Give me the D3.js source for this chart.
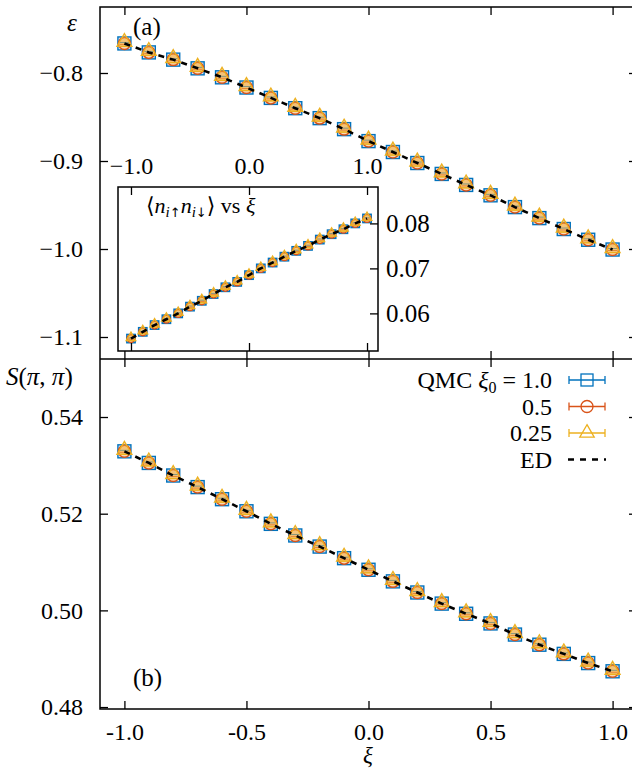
<!DOCTYPE html>
<html>
<head>
<meta charset="utf-8">
<script src="https://cdn.jsdelivr.net/npm/d3@7"></script>
<style>
  body { margin: 0; background: #fff; }
  svg { font-family: "Liberation Serif", "DejaVu Serif", serif; }
</style>
</head>
<body>
<svg id="chart" width="632" height="770"></svg>
<script>
// xi grid shared by all data
const xi = [-1.0, -0.9, -0.8, -0.7, -0.6, -0.5, -0.4, -0.3, -0.2, -0.1, 0.0,
            0.1, 0.2, 0.3, 0.4, 0.5, 0.6, 0.7, 0.8, 0.9, 1.0];

// energy per site, panel (a)
const energy = [-0.7664, -0.7766, -0.7848, -0.7947, -0.8049, -0.8165, -0.8283, -0.8400,
                -0.8513, -0.8638, -0.8774, -0.8898, -0.9023, -0.9147, -0.9272, -0.9390,
                -0.9524, -0.9649, -0.9773, -0.9895, -1.0006];

// double occupancy, inset
const docc = [0.0544, 0.0559, 0.0574, 0.0587, 0.0600, 0.0615, 0.0628, 0.0643, 0.0658,
              0.0670, 0.0685, 0.0700, 0.0713, 0.0726, 0.0739, 0.0750, 0.0764, 0.0776,
              0.0787, 0.0800, 0.0811];

// structure factor, panel (b)
const spp = [0.5329, 0.5305, 0.5279, 0.5255, 0.5230, 0.5205, 0.5179, 0.5155, 0.5132,
             0.5108, 0.5084, 0.5060, 0.5037, 0.5014, 0.4993, 0.4973, 0.4950, 0.4929,
             0.4910, 0.4891, 0.4874];

const seriesNames = ["QMC ξ₀ = 1.0", "0.5", "0.25", "ED"];
const seriesColors = ["#0072bd", "#d95319", "#edb120", "#000"];

const xTicks = [-1.0, -0.5, 0.0, 0.5, 1.0];
const yTicksA = [-0.8, -0.9, -1.0, -1.1];
const yTicksB = [0.54, 0.52, 0.50, 0.48];
const insetXTicks = [-1.0, 0.0, 1.0];
const insetYTicks = [0.06, 0.07, 0.08];

const svg = d3.select("#chart");

const x = d3.scaleLinear().domain([-1.1, 1.1]).range([100, 637]);
const yA = d3.scaleLinear().domain([-1.125, -0.725]).range([359, 7]);
const yB = d3.scaleLinear().domain([0.4796, 0.552]).range([709, 359]);
const xI = d3.scaleLinear().domain([-1.11, 1.093]).range([118, 378]);
const yI = d3.scaleLinear().domain([0.05164, 0.08809]).range([351, 187]);

const fmt = d3.format(".1f");
const fmt2 = d3.format(".2f");

function styleAxis(g, size) {
  g.select(".domain").remove();
  g.selectAll(".tick line").attr("stroke", "#000").attr("stroke-width", 1.3);
  g.selectAll(".tick text").attr("fill", "#000")
    .style("font-family", "'Liberation Serif', serif").style("font-size", size + "px");
}

// markers + error bars for one panel
function drawPoints(g, sx, sy, vals, s) {
  const pts = xi.map((v, i) => ({ x: v, y: vals[i] }));
  g.append("g").selectAll("rect").data(pts).enter().append("rect")
    .attr("x", d => sx(d.x) - s).attr("y", d => sy(d.y) - s)
    .attr("width", 2 * s).attr("height", 2 * s)
    .attr("fill", "#d8e8f4").attr("stroke", seriesColors[0]).attr("stroke-width", 1.4);
  g.append("g").selectAll("circle").data(pts).enter().append("circle")
    .attr("cx", d => sx(d.x)).attr("cy", d => sy(d.y)).attr("r", s * 0.92)
    .attr("fill", "#f8d9b4").attr("stroke", seriesColors[1]).attr("stroke-width", 1.5);
  // error bars (horizontal in each colour)
  [0, 1, 2].forEach(k => {
    g.append("g").selectAll("line").data(pts).enter().append("line")
      .attr("x1", d => sx(d.x) - s * 0.7).attr("x2", d => sx(d.x) + s * 0.7)
      .attr("y1", d => sy(d.y) + (k - 0.5) * s * 0.3).attr("y2", d => sy(d.y) + (k - 0.5) * s * 0.3)
      .attr("stroke", seriesColors[k]).attr("stroke-width", 1).attr("opacity", 0.8);
  });
  const tri = d3.symbol().type(d3.symbolTriangle).size(s * s * 2.3);
  g.append("g").selectAll("path").data(pts).enter().append("path")
    .attr("d", tri)
    .attr("transform", d => `translate(${sx(d.x)},${sy(d.y) - s * 0.2})`)
    .attr("fill", "#f0a830").attr("fill-opacity", 0.45)
    .attr("stroke", seriesColors[2]).attr("stroke-width", 1.3);
  // ED dashed line on top
  const line = d3.line().x(d => sx(d.x)).y(d => sy(d.y));
  g.append("path").datum(pts).attr("d", line)
    .attr("fill", "none").attr("stroke", "#000").attr("stroke-width", 2.6)
    .attr("stroke-dasharray", "6,6");
}

// ---------- panel (a)
const gA = svg.append("g");
drawPoints(gA, x, yA, energy, 6.5);

gA.append("g").attr("transform", "translate(100,0)")
  .call(d3.axisLeft(yA).tickValues(yTicksA).tickSize(-8).tickPadding(17).tickFormat(fmt))
  .call(g => styleAxis(g, 24));
gA.append("g").attr("transform", "translate(637,0)")
  .call(d3.axisRight(yA).tickValues(yTicksA).tickSize(-8).tickFormat(""))
  .call(g => styleAxis(g, 24));
gA.append("g").attr("transform", "translate(0,7)")
  .call(d3.axisTop(x).tickValues(xTicks).tickSize(-8).tickFormat(""))
  .call(g => styleAxis(g, 24));
gA.append("g").attr("transform", "translate(0,359)")
  .call(d3.axisBottom(x).tickValues(xTicks).tickSize(-8).tickFormat(""))
  .call(g => styleAxis(g, 24));

gA.append("text").attr("x", 72).attr("y", 31).attr("text-anchor", "middle")
  .style("font-style", "italic").style("font-size", "25px").text("ε");
gA.append("text").attr("x", 133).attr("y", 35).style("font-size", "25px").text("(a)");

// ---------- inset
const gI = svg.append("g");
gI.append("rect").attr("x", 118).attr("y", 187).attr("width", 260).attr("height", 164)
  .attr("fill", "#fff").attr("stroke", "#000").attr("stroke-width", 1.5);
drawPoints(gI, xI, yI, docc, 4.2);

gI.append("g").attr("transform", "translate(0,187)")
  .call(d3.axisTop(xI).tickValues(insetXTicks).tickSize(-8).tickPadding(13).tickFormat(fmt))
  .call(g => styleAxis(g, 24));
gI.append("g").attr("transform", "translate(0,351)")
  .call(d3.axisBottom(xI).tickValues(insetXTicks).tickSize(-8).tickFormat(""))
  .call(g => styleAxis(g, 24));
gI.append("g").attr("transform", "translate(378,0)")
  .call(d3.axisRight(yI).tickValues(insetYTicks).tickSize(-8).tickPadding(8).tickFormat(fmt2))
  .call(g => styleAxis(g, 25));

const insetLabel = gI.append("text").attr("x", 146).attr("y", 213).style("font-size", "22px");
insetLabel.append("tspan").text("⟨");
insetLabel.append("tspan").style("font-style", "italic").text("n");
insetLabel.append("tspan").attr("dy", 4).style("font-size", "15px").style("font-style", "italic").text("i");
insetLabel.append("tspan").style("font-size", "13px").style("font-family", "'DejaVu Sans'").text("↑");
insetLabel.append("tspan").attr("dy", -4).style("font-style", "italic").text("n");
insetLabel.append("tspan").attr("dy", 4).style("font-size", "15px").style("font-style", "italic").text("i");
insetLabel.append("tspan").style("font-size", "13px").style("font-family", "'DejaVu Sans'").text("↓");
insetLabel.append("tspan").attr("dy", -4).text("⟩ vs ");
insetLabel.append("tspan").style("font-style", "italic").text("ξ");

// ---------- panel (b)
const gB = svg.append("g");
drawPoints(gB, x, yB, spp, 6.5);

gB.append("g").attr("transform", "translate(100,0)")
  .call(d3.axisLeft(yB).tickValues(yTicksB).tickSize(-8).tickPadding(17).tickFormat(fmt2))
  .call(g => styleAxis(g, 24));
gB.append("g").attr("transform", "translate(637,0)")
  .call(d3.axisRight(yB).tickValues(yTicksB).tickSize(-8).tickFormat(""))
  .call(g => styleAxis(g, 24));
gB.append("g").attr("transform", "translate(0,709)")
  .call(d3.axisBottom(x).tickValues(xTicks).tickSize(-8).tickPadding(14)
    .tickFormat(d => fmt(d).replace("−", "-")))
  .call(g => styleAxis(g, 24));
gB.append("g").attr("transform", "translate(0,359)")
  .call(d3.axisTop(x).tickValues(xTicks).tickSize(-8).tickFormat(""))
  .call(g => styleAxis(g, 24));

const sLabel = gB.append("text").attr("x", 6).attr("y", 385).style("font-size", "25px");
sLabel.append("tspan").style("font-style", "italic").text("S");
sLabel.append("tspan").text("(");
sLabel.append("tspan").style("font-style", "italic").text("π");
sLabel.append("tspan").text(", ");
sLabel.append("tspan").style("font-style", "italic").text("π");
sLabel.append("tspan").text(")");

gB.append("text").attr("x", 133).attr("y", 686).style("font-size", "25px").text("(b)");
gB.append("text").attr("x", 368).attr("y", 763).attr("text-anchor", "middle")
  .style("font-style", "italic").style("font-size", "23px").text("ξ");

// ---------- legend
const leg = svg.append("g");
const legY = [380, 406.5, 433, 459.5];
seriesNames.forEach((name, i) => {
  const cy = legY[i];
  const t = leg.append("text").attr("x", 552).attr("y", cy + 8).attr("text-anchor", "end")
    .style("font-size", "24px");
  if (i === 0) {
    t.append("tspan").text("QMC ");
    t.append("tspan").style("font-style", "italic").text("ξ");
    t.append("tspan").attr("dy", 5).style("font-size", "16px").text("0");
    t.append("tspan").attr("dy", -5).text(" = 1.0");
  } else {
    t.text(name);
  }
  const c = seriesColors[i];
  if (i === 3) {
    leg.append("line").attr("x1", 568).attr("x2", 606).attr("y1", cy).attr("y2", cy)
      .attr("stroke", c).attr("stroke-width", 2.6).attr("stroke-dasharray", "6,6");
    return;
  }
  leg.append("line").attr("x1", 569).attr("x2", 605).attr("y1", cy).attr("y2", cy)
    .attr("stroke", c).attr("stroke-width", 1.3);
  [569, 605].forEach(ex => leg.append("line").attr("x1", ex).attr("x2", ex)
    .attr("y1", cy - 4).attr("y2", cy + 4).attr("stroke", c).attr("stroke-width", 1.3));
  if (i === 0) {
    leg.append("rect").attr("x", 581).attr("y", cy - 6).attr("width", 12).attr("height", 12)
      .attr("fill", "none").attr("stroke", c).attr("stroke-width", 1.3);
  } else if (i === 1) {
    leg.append("circle").attr("cx", 587).attr("cy", cy).attr("r", 6)
      .attr("fill", "none").attr("stroke", c).attr("stroke-width", 1.3);
  } else {
    leg.append("path").attr("d", d3.symbol().type(d3.symbolTriangle).size(90))
      .attr("transform", `translate(587,${cy})`)
      .attr("fill", "none").attr("stroke", c).attr("stroke-width", 1.3);
  }
});

// ---------- frames
svg.append("rect").attr("x", 100).attr("y", 7).attr("width", 537).attr("height", 702)
  .attr("fill", "none").attr("stroke", "#000").attr("stroke-width", 1.5);
svg.append("line").attr("x1", 100).attr("x2", 637).attr("y1", 359).attr("y2", 359)
  .attr("stroke", "#000").attr("stroke-width", 1.5);
</script>
</body>
</html>
